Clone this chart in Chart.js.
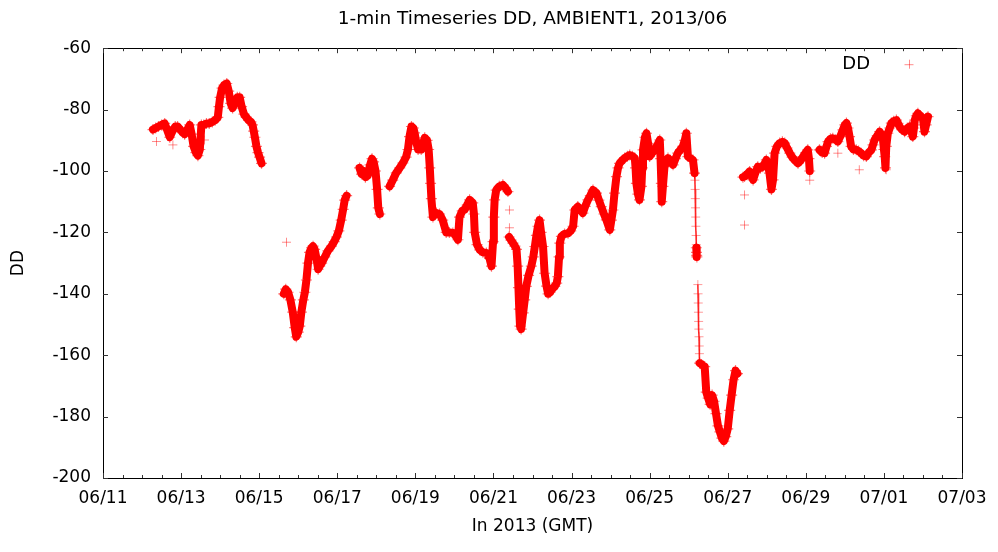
<!DOCTYPE html>
<html>
<head>
<meta charset="utf-8">
<script src="https://cdn.jsdelivr.net/npm/chart.js@4.4.0/dist/chart.umd.min.js"></script>
<style>
  html, body { margin: 0; padding: 0; background: #fff; }
</style>
</head>
<body>
<canvas id="ddChart" width="998" height="552"></canvas>
<script>
// x values are days since 2013/06/11 00:00 GMT, y values are DD
const tickLabels = ['06/11', '06/13', '06/15', '06/17', '06/19', '06/21', '06/23', '06/25', '06/27', '06/29', '07/01', '07/03'];

const seg1Day = [1.28, 1.35, 1.42, 1.50, 1.58, 1.64, 1.71, 1.78, 1.85, 1.91, 1.98, 2.04, 2.09, 2.16, 2.22, 2.27, 2.32, 2.38, 2.43, 2.48,
    2.52, 2.58, 2.65, 2.72, 2.80, 2.87, 2.94, 2.97, 3.00, 3.05, 3.10, 3.17, 3.22, 3.27, 3.32, 3.38, 3.44, 3.50, 3.55, 3.61,
    3.67, 3.73, 3.79, 3.83, 3.86, 3.89, 3.93, 3.97, 4.01, 4.06];
const seg1DD = [-86.5, -86, -85.5, -85, -84.5, -86.5, -89, -87, -85.5, -85.5, -86.5, -87.5, -88, -86.5, -85, -88, -92, -94, -95, -93,
    -85, -85, -84.5, -84.5, -84, -83.5, -82.5, -79, -76, -73, -72, -71.5, -74, -78, -79.5, -77.5, -76, -76, -79, -81.5,
    -82.5, -83.5, -84, -85, -87, -89, -92, -94, -95.5, -97.5];

const seg2Day = [4.63, 4.68, 4.74, 4.80, 4.86, 4.91, 4.95, 5.00, 5.04, 5.08, 5.13, 5.17, 5.21, 5.25, 5.29, 5.34, 5.38, 5.42, 5.46, 5.51,
    5.55, 5.60, 5.68, 5.76, 5.85, 5.92, 5.98, 6.04, 6.10, 6.15, 6.19, 6.24];
const seg2DD = [-140, -138.5, -139.5, -142, -146, -151, -154, -152.5, -150.5, -146, -142, -139.5, -135.5, -130, -126.5, -125, -124.5, -125.5, -128, -132,
    -131, -130, -128, -126, -124.5, -123, -121.5, -119.5, -116, -112.5, -109.5, -108];

const seg3Day = [6.57, 6.62, 6.67, 6.72, 6.78, 6.84, 6.89, 6.93, 6.98, 7.02, 7.05, 7.09];
const seg3DD = [-99, -101, -100, -102, -101.5, -98, -96, -97, -100, -106, -112, -114];

const seg4Day = [7.34, 7.42, 7.51, 7.60, 7.68, 7.76, 7.81, 7.85, 7.90, 7.95, 7.98, 8.03, 8.07, 8.15, 8.24, 8.30, 8.34, 8.37, 8.39, 8.41,
    8.45, 8.50, 8.54, 8.62, 8.70, 8.79, 8.87, 8.96, 9.03, 9.09, 9.13, 9.20, 9.26, 9.33, 9.39, 9.47, 9.50, 9.52, 9.58, 9.65,
    9.73, 9.82, 9.90, 9.95, 9.99, 10.01, 10.03, 10.07, 10.15, 10.24, 10.31, 10.37];
const seg4DD = [-105, -103, -100.6, -99, -97.4, -95.5, -93, -88.8, -85.5, -86, -87.6, -91, -93, -93, -89.2, -90, -93, -99, -104, -109,
    -115, -113.5, -113.7, -114, -116, -120, -120, -120.2, -121, -122.4, -115, -113, -112.6, -111, -109.4, -110.4, -114, -120, -124, -125.7,
    -126.5, -126.7, -128.5, -131, -123, -115, -109.4, -106.2, -105, -104.5, -105.5, -106.7];

const seg5Day = [10.40, 10.45, 10.50, 10.55, 10.59, 10.62, 10.64, 10.66, 10.68, 10.71, 10.76, 10.80, 10.84, 10.90, 10.97, 11.02, 11.06, 11.10, 11.14, 11.18,
    11.22, 11.27, 11.31, 11.36, 11.40, 11.45, 11.50, 11.57, 11.62, 11.65, 11.68, 11.70, 11.74, 11.82, 11.91, 11.98, 12.04, 12.08, 12.16, 12.22,
    12.29, 12.35, 12.42, 12.48, 12.55, 12.64, 12.70, 12.76, 12.83, 12.89, 12.98, 13.02, 13.06, 13.10, 13.15, 13.19, 13.23, 13.30, 13.36, 13.43,
    13.49, 13.56, 13.62, 13.64, 13.66, 13.70, 13.74, 13.79, 13.81, 13.83, 13.88, 13.92, 13.96, 14.00, 14.07, 14.13, 14.20, 14.26, 14.28, 14.30,
    14.31, 14.34, 14.38, 14.47, 14.53, 14.60, 14.66, 14.72, 14.79, 14.85, 14.90, 14.94, 14.98, 15.04, 15.11, 15.15];
const seg5DD = [-121.5, -122.5, -123.5, -124.5, -125.5, -131, -138, -145, -150.5, -151.5, -146.2, -142, -137.6, -134, -131, -128, -124.6, -121, -118, -116,
    -120, -124.6, -133.3, -137.5, -140, -139.5, -138.5, -137.6, -136.5, -134.4, -128, -123.5, -121.3, -120.5, -120.3, -119.5, -118, -112.7, -111.6, -112.5,
    -113.7, -111.5, -109.4, -108, -106.2, -107.2, -109.5, -111.6, -114, -115.9, -119.2, -116, -112.7, -107.2, -101.8, -99, -97.5, -96.5, -95.8, -95.2,
    -94.8, -95.2, -95.8, -99, -104, -107.5, -109.4, -105, -99, -93.1, -89, -87.7, -91, -95.3, -94, -93.1, -91.5, -89.9, -96, -104,
    -110, -105, -98.6, -95.8, -96.5, -98, -96, -94.2, -93, -92, -90, -87.7, -95.3, -95.8, -96.4, -100.7];

// sparse fast drops on 06/26 (few crosses, thin streaks)
const drop1Day = [15.15, 15.16, 15.165, 15.17, 15.175, 15.18, 15.185, 15.19, 15.195];
const drop1DD = [-100.7, -103, -106, -109, -112, -115, -118, -121, -124];
const clusterDay = [15.195, 15.2, 15.205, 15.21];
const clusterDD = [-125, -126.5, -127.5, -128];
const drop2Day = [15.235, 15.24, 15.245, 15.25, 15.255, 15.26, 15.265, 15.27, 15.275, 15.28];
const drop2DD = [-137, -140, -143, -146, -149, -151.5, -154, -157, -159.5, -162];

const seg6Day = [15.28, 15.33, 15.37, 15.41, 15.45, 15.50, 15.55, 15.60, 15.65, 15.70, 15.75, 15.80, 15.85, 15.90, 15.95, 16.00,
    16.05, 16.10, 16.15, 16.20, 16.25];
const seg6DD = [-162.6, -163, -163.5, -163.7, -172, -174, -176, -173, -175, -179, -183, -185, -187, -188, -186.5, -184,
    -178, -173, -168, -165, -166];

const seg7Day = [16.39, 16.43, 16.50, 16.56, 16.60, 16.65, 16.71, 16.77, 16.84, 16.90, 16.95, 16.99, 17.03, 17.07, 17.12, 17.16, 17.20, 17.26, 17.33, 17.40,
    17.46, 17.52, 17.59, 17.65, 17.71, 17.80, 17.87, 17.93, 18.00, 18.05, 18.08, 18.10];
const seg7DD = [-102, -101.8, -101, -100.2, -101.5, -102.9, -100.5, -98.6, -99, -98.6, -97.5, -96.4, -98, -100.7, -106, -102.9, -94.2, -92, -90.9, -90.5,
    -90.9, -92.5, -94.2, -95.5, -96.4, -97.5, -96.5, -95.3, -94, -93.1, -96, -100];

const seg8Day = [18.35, 18.42, 18.48, 18.53, 18.57, 18.63, 18.69, 18.76, 18.82, 18.89, 18.95, 19.00, 19.04, 19.08, 19.12, 19.16, 19.22, 19.29, 19.35, 19.42,
    19.48, 19.55, 19.61, 19.68, 19.72, 19.76, 19.83, 19.89, 19.93, 19.97, 20.00, 20.02, 20.04, 20.06, 20.10, 20.15, 20.19, 20.25, 20.32, 20.36,
    20.40, 20.46, 20.53, 20.60, 20.66, 20.70, 20.74, 20.77, 20.79, 20.83, 20.87, 20.93, 21.00, 21.02, 21.04, 21.08, 21.13];
const seg8DD = [-93.1, -94, -94.2, -92, -90.4, -89.5, -89.3, -89.8, -90.4, -88.5, -86.6, -85, -84.4, -86, -88.8, -92, -93, -93.1, -93.5, -94.2,
    -95, -95.3, -94, -93.1, -91.5, -89.9, -88.5, -87.2, -88, -88.8, -93, -95.3, -99, -92, -87.7, -86, -84.4, -83.8, -83.4, -84.5,
    -85.5, -86.5, -87.2, -86, -85.5, -87, -88.8, -86, -83.4, -82, -81.2, -82, -82.8, -85, -87.2, -85, -82.3];

// isolated readings
const strayDay = [1.37, 1.79, 2.60, 4.70, 10.41, 10.41, 16.43, 16.43, 18.82, 19.37, 20.06, 18.10];
const strayDD = [-90.4, -91.5, -89.9, -123.2, -112.7, -118.5, -117.6, -107.8, -94.2, -99.6, -99.6, -103];

const denseSegments = [
    [seg1Day, seg1DD], [seg2Day, seg2DD], [seg3Day, seg3DD], [seg4Day, seg4DD],
    [seg5Day, seg5DD], [clusterDay, clusterDD], [seg6Day, seg6DD], [seg7Day, seg7DD], [seg8Day, seg8DD]
];
const sparseSegments = [[drop1Day, drop1DD], [drop2Day, drop2DD]];

const FONT = 'DejaVu Sans';
const crossColor = 'rgba(255, 0, 0, 0.55)';

function toPoints(days, values) {
    return days.map((d, i) => ({ x: d, y: values[i] }));
}

const datasets = denseSegments.map(([days, values]) => ({
    label: 'DD',
    data: toPoints(days, values),
    showLine: true,
    borderColor: 'rgb(255, 0, 0)',
    borderWidth: 8,
    borderJoinStyle: 'round',
    borderCapStyle: 'round',
    tension: 0,
    pointStyle: 'cross',
    pointRadius: 5.5,
    pointBorderWidth: 1.2,
    pointBorderColor: crossColor
}));
sparseSegments.forEach(([days, values]) => datasets.push({
    label: 'DD',
    data: toPoints(days, values),
    showLine: true,
    borderColor: 'rgba(255, 0, 0, 0.8)',
    borderWidth: 1.5,
    tension: 0,
    pointStyle: 'cross',
    pointRadius: 4.5,
    pointBorderWidth: 1,
    pointBorderColor: 'rgba(255, 0, 0, 0.4)'
}));
datasets.push({
    label: 'DD',
    data: toPoints(strayDay, strayDD),
    showLine: false,
    pointStyle: 'cross',
    pointRadius: 4.5,
    pointBorderWidth: 1,
    pointBorderColor: 'rgba(255, 0, 0, 0.45)'
});

// Gnuplot-like frame: border, inward ticks on all four sides, legend
const gnuplotFrame = {
    id: 'gnuplotFrame',
    afterDatasetsDraw(chart) {
        const { ctx, chartArea: a, scales } = chart;
        const xs = scales.x, ys = scales.y;
        ctx.save();
        ctx.strokeStyle = '#000';
        ctx.lineWidth = 1;
        ctx.strokeRect(Math.round(a.left) + 0.5, Math.round(a.top) + 0.5,
            Math.round(a.right - a.left), Math.round(a.bottom - a.top));

        ctx.strokeStyle = '#333';
        ctx.beginPath();
        for (let d = 0; d <= 22; d += 0.5) {
            const px = Math.round(xs.getPixelForValue(d)) + 0.5;
            const len = (d % 2 === 0) ? 5 : 3;
            ctx.moveTo(px, a.bottom); ctx.lineTo(px, a.bottom - len);
            ctx.moveTo(px, a.top); ctx.lineTo(px, a.top + len);
        }
        for (let v = -200; v <= -60; v += 20) {
            const py = Math.round(ys.getPixelForValue(v)) + 0.5;
            ctx.moveTo(a.left, py); ctx.lineTo(a.left + 5, py);
            ctx.moveTo(a.right, py); ctx.lineTo(a.right - 5, py);
        }
        ctx.stroke();

        // legend
        ctx.fillStyle = '#000';
        ctx.font = '18px "' + FONT + '"';
        ctx.textAlign = 'right';
        ctx.textBaseline = 'middle';
        ctx.fillText('DD', a.right - 92, a.top + 16);
        const cx = a.right - 53, cy = a.top + 16;
        ctx.strokeStyle = 'rgba(255, 0, 0, 0.45)';
        ctx.beginPath();
        ctx.moveTo(cx - 4.5, cy + 0.5); ctx.lineTo(cx + 4.5, cy + 0.5);
        ctx.moveTo(cx + 0.5, cy - 4.5); ctx.lineTo(cx + 0.5, cy + 4.5);
        ctx.stroke();
        ctx.restore();
    }
};

new Chart(document.getElementById('ddChart').getContext('2d'), {
    type: 'scatter',
    data: { datasets: datasets },
    options: {
        responsive: false,
        animation: false,
        layout: { padding: { left: 0, right: 36, top: 0, bottom: 0 } },
        plugins: {
            legend: { display: false },
            tooltip: { enabled: false },
            title: {
                display: true,
                fullSize: false,
                text: '1-min Timeseries DD, AMBIENT1, 2013/06',
                color: '#000',
                font: { family: FONT, size: 18.5, weight: 'normal' },
                padding: { top: 8, bottom: 18 }
            }
        },
        scales: {
            x: {
                type: 'linear',
                min: 0,
                max: 22,
                grid: { display: false, drawTicks: false },
                border: { display: false },
                ticks: {
                    stepSize: 2,
                    autoSkip: false,
                    maxRotation: 0,
                    padding: 10,
                    color: '#000',
                    font: { family: FONT, size: 17 },
                    callback: (v) => tickLabels[v / 2]
                },
                title: {
                    display: true,
                    text: 'In 2013 (GMT)',
                    color: '#000',
                    font: { family: FONT, size: 17 },
                    padding: { top: 0, bottom: 15 }
                },
                afterFit: (scale) => { scale.height = 74; }
            },
            y: {
                min: -200,
                max: -60,
                grid: { display: false, drawTicks: false },
                border: { display: false },
                ticks: {
                    stepSize: 20,
                    padding: 12,
                    color: '#000',
                    font: { family: FONT, size: 17 }
                },
                title: {
                    display: true,
                    text: 'DD',
                    color: '#000',
                    font: { family: FONT, size: 17 },
                    padding: { top: 8, bottom: 0 }
                },
                afterFit: (scale) => { scale.width = 103; }
            }
        }
    },
    plugins: [gnuplotFrame]
});
</script>
</body>
</html>
